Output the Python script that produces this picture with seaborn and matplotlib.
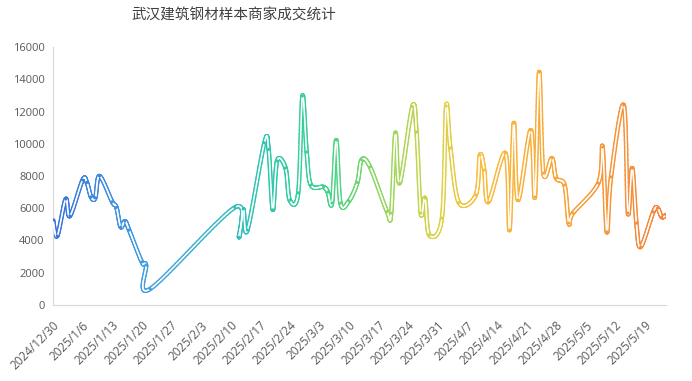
import numpy as np
import pandas as pd
import matplotlib
matplotlib.use('Agg')
import matplotlib.pyplot as plt
import matplotlib.dates as mdates
import matplotlib.transforms as mtransforms
from matplotlib.collections import LineCollection
from matplotlib.colors import LinearSegmentedColormap
import seaborn as sns

# daily sales volume (gaps = no trading data)
dates = [
    '2024-12-30', '2024-12-31', '2025-01-02', '2025-01-03', '2025-01-06', '2025-01-07',
    '2025-01-08', '2025-01-09', '2025-01-10', '2025-01-13', '2025-01-14', '2025-01-15',
    '2025-01-16', '2025-01-17', '2025-01-20', '2025-01-21', '2025-01-22',
    '2025-02-11', '2025-02-12', '2025-02-13', '2025-02-14', '2025-02-18', '2025-02-19',
    '2025-02-20', '2025-02-21', '2025-02-23', '2025-02-24', '2025-02-26', '2025-02-27',
    '2025-02-28', '2025-03-01', '2025-03-04', '2025-03-05', '2025-03-06', '2025-03-07',
    '2025-03-08', '2025-03-10', '2025-03-12', '2025-03-13', '2025-03-15', '2025-03-19',
    '2025-03-20', '2025-03-21', '2025-03-22', '2025-03-25', '2025-03-26', '2025-03-27',
    '2025-03-28', '2025-03-29', '2025-04-01', '2025-04-02', '2025-04-03', '2025-04-05',
    '2025-04-09', '2025-04-10', '2025-04-11', '2025-04-12', '2025-04-16', '2025-04-17',
    '2025-04-18', '2025-04-19', '2025-04-22', '2025-04-23', '2025-04-24', '2025-04-25',
    '2025-04-27', '2025-04-28', '2025-04-30', '2025-05-01', '2025-05-02', '2025-05-08',
    '2025-05-09', '2025-05-10', '2025-05-11', '2025-05-14', '2025-05-15', '2025-05-16',
    '2025-05-17', '2025-05-18', '2025-05-21', '2025-05-22', '2025-05-23', '2025-05-24',
]
volumes = [
    5270, 4280, 6570, 5520, 7750, 7600,
    6700, 6650, 8000, 6400, 6050, 4840,
    5200, 4650, 2670, 2480, 1000,
    6050, 4200, 5950, 4650, 10050, 9650,
    5900, 8930, 8500, 6500, 6950, 12960,
    9490, 7440, 7320, 7000, 6320, 10230,
    6320, 6450, 7600, 9000, 8560, 5800,
    5700, 10670, 7560, 12300, 10730, 5700,
    6630, 4340, 5390, 12340, 9740, 6350,
    6820, 9300, 8370, 6390, 9420, 4650,
    11280, 6510, 10850, 6700, 14450, 8180,
    9110, 7870, 7440, 5080, 5700, 7560,
    9800, 4530, 7940, 12400, 5700, 8490,
    5080, 3600, 5770, 6010, 5460, 5580,
]
tick_dates = [
    '2024-12-30', '2025-01-06', '2025-01-13', '2025-01-20', '2025-01-27', '2025-02-03',
    '2025-02-10', '2025-02-17', '2025-02-24', '2025-03-03', '2025-03-10', '2025-03-17',
    '2025-03-24', '2025-03-31', '2025-04-07', '2025-04-14', '2025-04-21', '2025-04-28',
    '2025-05-05', '2025-05-12', '2025-05-19',
]
y_ticks = [0, 2000, 4000, 6000, 8000, 10000, 12000, 14000, 16000]
title = '武汉建筑钢材样本商家成交统计'
# colour stops along the time axis
grad_pos = [0.0, 0.17, 0.34, 0.44, 0.53, 0.63, 0.70, 0.83, 1.0]
grad_colors = ['#3a74dc', '#44a4e0', '#2ec6b0', '#3dd292', '#8cd862', '#dcd244',
               '#f9bd3c', '#f9a537', '#f4843c']


def smooth_curve(x, y, steps=30):
    """Bezier smoothing with Catmull-Rom style control points (like office charts)."""
    px = np.concatenate([[x[0]], x, [x[-1]]])
    py = np.concatenate([[y[0]], y, [y[-1]]])
    t = np.linspace(0, 1, steps)[:, None]
    xs, ys = [], []
    for i in range(1, len(px) - 2):
        p0 = np.array([px[i], py[i]])
        p3 = np.array([px[i + 1], py[i + 1]])
        c1 = p0 + (np.array([px[i + 1], py[i + 1]]) - np.array([px[i - 1], py[i - 1]])) / 6
        c2 = p3 - (np.array([px[i + 2], py[i + 2]]) - np.array([px[i], py[i]])) / 6
        pts = ((1 - t) ** 3) * p0 + 3 * ((1 - t) ** 2) * t * c1 + 3 * (1 - t) * t ** 2 * c2 + t ** 3 * p3
        if i > 1:
            pts = pts[1:]
        xs.append(pts[:, 0])
        ys.append(pts[:, 1])
    return np.concatenate(xs), np.concatenate(ys)


df = pd.DataFrame({'date': pd.to_datetime(dates), 'volume': volumes})
df['x'] = mdates.date2num(df['date'])

sns.set_theme(style='white')
plt.rcParams['font.family'] = ['Open Sans', 'Noto Sans CJK SC', 'DejaVu Sans']

fig = plt.figure(figsize=(6.92, 3.81), dpi=100)
ax = fig.add_axes([0.0766, 0.1995, 0.8858, 0.6771])

cmap = LinearSegmentedColormap.from_list('grad', list(zip(grad_pos, grad_colors)))
xmin, xmax = df['x'].min(), df['x'].max()

sx, sy = smooth_curve(df['x'].values, df['volume'].values.astype(float))
pts = np.column_stack([sx, sy]).reshape(-1, 1, 2)
segs = np.concatenate([pts[:-1], pts[1:]], axis=1)
seg_colors = cmap(np.clip((0.5 * (sx[:-1] + sx[1:]) - xmin) / (xmax - xmin), 0, 1))

outer = LineCollection(segs, colors=seg_colors, linewidths=3.2,
                       capstyle='round', joinstyle='round', zorder=2)
inner = LineCollection(segs, colors='white', linewidths=1.1,
                       capstyle='round', joinstyle='round', zorder=3)
ax.add_collection(outer)
ax.add_collection(inner)

sns.scatterplot(data=df, x='x', y='volume', hue='x', palette=cmap,
                hue_norm=(xmin, xmax), s=5, linewidth=0, legend=False,
                ax=ax, zorder=4)

ax.set_xlim(xmin, xmax)
ax.set_ylim(0, 16000)
ax.set_yticks(y_ticks)
ax.set_yticklabels([str(v) for v in y_ticks], fontsize=8, color='#595959')

tick_x = mdates.date2num(pd.to_datetime(tick_dates))
ax.set_xticks(tick_x)
ax.set_xticklabels([f'{d.year}/{d.month}/{d.day}' for d in pd.to_datetime(tick_dates)],
                   rotation=45, ha='right', va='top', rotation_mode='anchor',
                   fontsize=8.5, color='#595959')
offset = mtransforms.ScaledTranslation(6 / 100, 0, fig.dpi_scale_trans)
for lbl in ax.get_xticklabels():
    lbl.set_transform(lbl.get_transform() + offset)

ax.tick_params(axis='both', length=0)
ax.tick_params(axis='x', pad=10)
ax.tick_params(axis='y', pad=6)
ax.set_xlabel('')
ax.set_ylabel('')
for side in ['top', 'right']:
    ax.spines[side].set_visible(False)
for side in ['left', 'bottom']:
    ax.spines[side].set_color('#d9d9d9')
    ax.spines[side].set_linewidth(0.9)

fig.text(0.338, 0.958, title, ha='center', va='center', fontsize=10.5,
         color='#404040', family=['Noto Sans CJK SC', 'DejaVu Sans'])

fig.savefig('out.png', dpi=100)
